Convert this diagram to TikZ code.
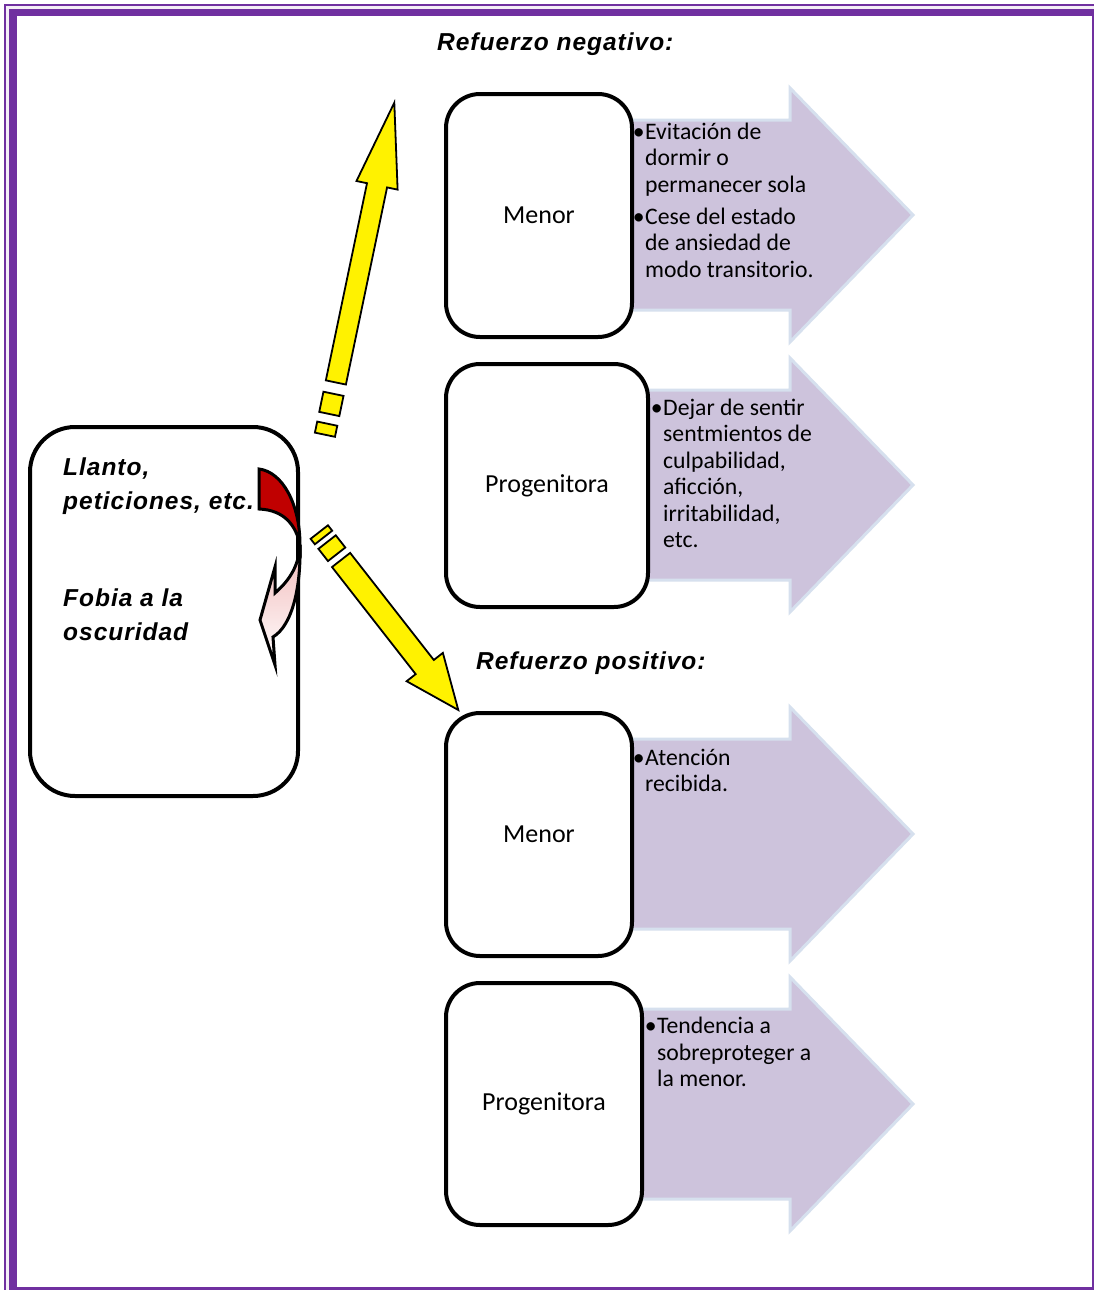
\documentclass[tikz,border=0pt]{standalone}
\usepackage{fontspec}
\setmainfont{Liberation Sans}
\newfontfamily\calib{Carlito}
\definecolor{purp}{HTML}{7030A0}
\definecolor{lav}{RGB}{205,195,220}
\definecolor{lavedge}{RGB}{214,224,238}
\definecolor{dred}{HTML}{C00000}
\definecolor{pinktop}{RGB}{242,186,186}
\newcommand\toplines[1]{\begin{tabular}[t]{@{}l@{}}#1\end{tabular}}
\begin{document}
\begin{tikzpicture}[x=1pt,y=-1pt,
 box/.style={draw=black, line width=4, rounded corners=34, fill=white, inner sep=0,
   font=\calib\fontsize{26}{30}\selectfont},
 btxt/.style={anchor=base west, inner sep=0,
   font=\calib\fontsize{23.7}{26.5}\selectfont},
 ttl/.style={anchor=base west, inner sep=0,
   font=\bfseries\itshape\fontsize{24.5}{34}\selectfont\addfontfeatures{LetterSpace=4}},
 parrow/.style={fill=lav, draw=lavedge, line width=3, line join=miter},
 yarrow/.style={fill=yellow, draw=black, line width=1.8, line join=miter},
 curv/.style={draw=black, line width=3, line join=miter}]
\useasboundingbox (0,0) rectangle (1094,1290);
% page border
\fill[purp] (4,4.5) rectangle (1094,1290);
\fill[purp!8] (6,6.5) rectangle (1094,1290);
\fill[purp] (9,9) rectangle (1094,1290);
\fill[white] (16.5,16.5) rectangle (1092.3,1287.3);
% purple block arrows
\foreach \cy in {215,485,834,1104}{
  \draw[parrow] (600,\cy-95) -- (790,\cy-95) -- (790,\cy-127) -- (913,\cy)
     -- (790,\cy+127) -- (790,\cy+95) -- (600,\cy+95) -- cycle;
}
% boxes
\node[box, minimum width=186, minimum height=243] (menorN) at (539,215.5) {Menor};
\node[box, minimum width=202, minimum height=243] (progN) at (547,485.5) {Progenitora};
\node[box, minimum width=186, minimum height=243] (menorP) at (539,834.5) {Menor};
\node[box, minimum width=196, minimum height=242] (progP) at (544,1104) {Progenitora};
% left box
\node[draw=black, line width=4, rounded corners=45, fill=white,
      minimum width=268, minimum height=369] (conducta) at (164,611.5) {};
% curved arrow
\draw[curv, fill=dred] (259,469) .. controls (283,472) and (300,505) .. (300,545)
   .. controls (296,525) and (284,510) .. (259,509) -- cycle;
\draw[curv, top color=pinktop, bottom color=white]
   (300,545) .. controls (301,585) and (293,625) .. (273,637) -- (275,665)
   -- (260,620) -- (275,567) -- (275,593) .. controls (290,580) and (299,565) .. (300,545) -- cycle;
% yellow striped arrows
\begin{scope}[shift={(394.3,102.7)}, rotate=78.2]
\draw[yarrow] (0,0) -- (-84.4,21) -- (-84.4,10.25) -- (-285.8,10.25) -- (-285.8,-10.25)
   -- (-84.4,-10.25) -- (-84.4,-21) -- cycle;
\draw[yarrow] (-297.4,-10.25) rectangle (-318,10.25);
\draw[yarrow] (-327.9,-10.25) rectangle (-339.2,10.25);
\end{scope}
\begin{scope}[shift={(458.3,710)}, rotate=-52]
\draw[yarrow] (0,0) -- (-54.5,23) -- (-54.5,11.5) -- (-190.4,11.5) -- (-190.4,-11.5)
   -- (-54.5,-11.5) -- (-54.5,-23) -- cycle;
\draw[yarrow] (-197.6,-11) rectangle (-213.1,11);
\draw[yarrow] (-218.9,-11) rectangle (-225.8,11);
\end{scope}
% titles and left texts
\node[ttl] (tneg) at (437,51) {Refuerzo negativo:};
\node[ttl] (tpos) at (476,669) {Refuerzo positivo:};
\node[ttl] (llanto) at (63,475) {\toplines{Llanto,\\peticiones, etc.}};
\node[ttl] (fobia) at (63,606) {\toplines{Fobia a la\\oscuridad}};
% bullet texts
\node[btxt] (b1) at (645,139) {\toplines{\llap{•\kern0.5pt}Evitación de\\dormir o\\permanecer sola}};
\node[btxt] (b2) at (645,224) {\toplines{\llap{•\kern0.5pt}Cese del estado\\de ansiedad de\\modo transitorio.}};
\node[btxt] (b3) at (663,415) {\toplines{\llap{•\kern0.5pt}Dejar de sentir\\sentmientos de\\culpabilidad,\\aficción,\\irritabilidad,\\etc.}};
\node[btxt] (b4) at (645,765) {\toplines{\llap{•\kern0.5pt}Atención\\recibida.}};
\node[btxt] (b5) at (657,1033.5) {\toplines{\llap{•\kern0.5pt}Tendencia a\\sobreproteger a\\la menor.}};
\end{tikzpicture}
\end{document}
